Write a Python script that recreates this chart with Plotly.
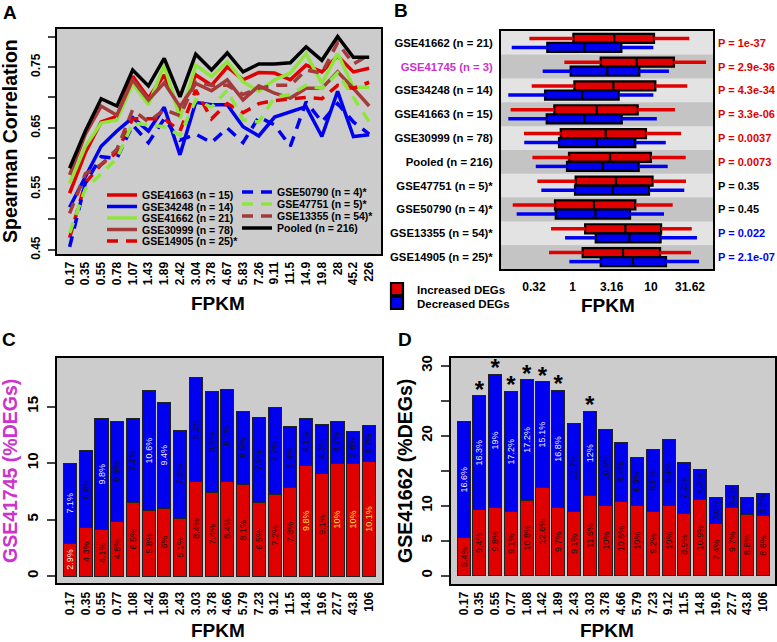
import plotly.graph_objects as go

W, H = 777, 642
FONT = "Liberation Sans, Arial, Helvetica, sans-serif"
RED = "#e00000"
BLUE = "#0000f0"
GREEN = "#8fe53c"
BROWN = "#a43a3a"
MAGENTA = "#cc33cc"
DARK = "#111111"
LIGHT = "#eeeeee"
YELLOW = "#ffe033"

# ---------------- Panel A data ----------------
fpkm_a = ["0.17", "0.35", "0.55", "0.78", "1.07", "1.43", "1.89", "2.42", "3.04", "3.78",
          "4.67", "5.83", "7.26", "9.11", "11.5", "14.9", "19.8", "28", "45.2", "226"]
gse41663 = [0.543, 0.61, 0.66, 0.669, 0.735, 0.699, 0.737, 0.677, 0.737, 0.72,
            0.75, 0.729, 0.741, 0.740, 0.729, 0.753, 0.742, 0.768, 0.742, 0.748]
gse34248 = [0.52, 0.57, 0.62, 0.645, 0.667, 0.645, 0.684, 0.606, 0.692, 0.688,
            0.688, 0.652, 0.637, 0.668, 0.677, 0.685, 0.636, 0.710, 0.636, 0.639]
gse41662 = [0.559, 0.62, 0.658, 0.663, 0.723, 0.688, 0.753, 0.666, 0.753, 0.734,
            0.759, 0.726, 0.710, 0.729, 0.740, 0.772, 0.723, 0.772, 0.717, 0.717]
gse30999 = [0.573, 0.64, 0.686, 0.671, 0.729, 0.696, 0.724, 0.685, 0.723, 0.711,
            0.729, 0.696, 0.719, 0.707, 0.699, 0.715, 0.715, 0.742, 0.715, 0.686]
gse14905 = [0.47, 0.56, 0.59, 0.61, 0.665, 0.665, 0.665, 0.645, 0.712, 0.665,
            0.69, 0.675, 0.69, 0.695, 0.697, 0.70, 0.698, 0.72, 0.715, 0.725]
gse50790 = [0.455, 0.56, 0.603, 0.60, 0.655, 0.626, 0.665, 0.63, 0.64, 0.626,
            0.65, 0.626, 0.668, 0.655, 0.62, 0.693, 0.66, 0.69, 0.66, 0.64]
gse47751 = [0.478, 0.55, 0.575, 0.60, 0.658, 0.655, 0.652, 0.638, 0.696, 0.684,
            0.712, 0.663, 0.66, 0.70, 0.705, 0.72, 0.715, 0.74, 0.70, 0.66]
gse13355 = [0.51, 0.575, 0.59, 0.615, 0.68, 0.66, 0.68, 0.67, 0.725, 0.72,
            0.72, 0.705, 0.715, 0.72, 0.72, 0.745, 0.74, 0.79, 0.755, 0.77]
pooled = [0.584, 0.645, 0.698, 0.686, 0.745, 0.719, 0.764, 0.701, 0.771, 0.745,
          0.773, 0.742, 0.755, 0.755, 0.757, 0.783, 0.761, 0.800, 0.766, 0.766]
a_yticks = [0.45, 0.50, 0.55, 0.60, 0.65, 0.70, 0.75, 0.80]
a_yticktext = ["0.45", "", "0.55", "", "0.65", "", "0.75", ""]

# ---------------- Panel B data ----------------
b_rows = ["GSE41662 (n = 21)", "GSE41745 (n = 3)", "GSE34248 (n = 14)", "GSE41663 (n = 15)",
          "GSE30999 (n = 78)", "Pooled (n = 216)", "GSE47751 (n = 5)*", "GSE50790 (n = 4)*",
          "GSE13355 (n = 54)*", "GSE14905 (n = 25)*"]
b_row_colors = ["black", MAGENTA] + ["black"] * 8
b_pvals = ["P = 1e-37", "P = 2.9e-36", "P = 4.3e-34", "P = 3.3e-06", "P = 0.0037",
           "P = 0.0073", "P = 0.35", "P = 0.45", "P = 0.022", "P = 2.1e-07"]
b_pval_colors = [RED] * 6 + ["black"] * 2 + [BLUE] * 2
# increased DEGs (red): whisker low, q1, median, q3, whisker high (FPKM)
up_lo = [0.279, 0.782, 0.299, 0.161, 0.238, 0.305, 0.353, 0.171, 0.528, 0.498]
up_q1 = [1.02, 2.28, 1.05, 0.582, 0.703, 0.897, 1.09, 0.594, 1.44, 1.34]
up_med = [3.40, 6.58, 3.31, 2.03, 2.64, 3.00, 3.58, 1.87, 4.71, 4.40]
up_q3 = [10.96, 19.7, 11.4, 6.78, 8.65, 10.0, 10.5, 6.32, 13.5, 13.1]
up_hi = [30.97, 50.7, 29.2, 20.3, 24.3, 27.9, 28.1, 19.0, 33.3, 32.6]
# decreased DEGs (blue)
dn_lo = [0.166, 0.413, 0.150, 0.150, 0.240, 0.337, 0.397, 0.192, 0.798, 0.906]
dn_q1 = [0.473, 0.942, 0.443, 0.465, 0.668, 0.845, 1.07, 0.607, 1.97, 2.28]
dn_med = [1.41, 2.77, 1.32, 1.41, 2.03, 2.42, 3.25, 1.95, 5.30, 5.90]
dn_q3 = [4.19, 7.11, 3.87, 4.24, 6.32, 6.98, 9.46, 5.41, 13.3, 15.6]
dn_hi = [10.74, 17.0, 10.74, 11.9, 15.5, 16.4, 26.7, 14.7, 38.8, 41.2]
b_xticks = [0.32, 1, 3.16, 10, 31.62]
b_xticktext = ["0.32", "1", "3.16", "10", "31.62"]

# ---------------- Panels C / D data ----------------
fpkm_cd = ["0.17", "0.35", "0.55", "0.77", "1.08", "1.42", "1.89", "2.43", "3.03", "3.78",
           "4.66", "5.79", "7.23", "9.12", "11.5", "14.8", "19.6", "27.7", "43.8", "106"]
c_up = [2.9, 4.3, 4.1, 4.8, 6.5, 5.8, 6, 5.1, 8.4, 7.4, 8.4, 8.1, 6.5, 7.2, 7.8, 9.8, 9.1, 10, 10, 10.1]
c_down = [7.1, 6.8, 9.8, 8.9, 7.4, 10.6, 9.4, 7.8, 9.2, 8.9, 8.1, 6.5, 7.5, 7.7, 5.4, 4.1, 4.3, 3.7, 2.8, 3.2]
d_up = [5.4, 9.4, 9.8, 9.1, 10.8, 12.6, 9.7, 9.1, 11.5, 10, 10.6, 10, 9.2, 10, 8.9, 10.9, 7.4, 9.7, 8.8, 8.6]
d_down = [16.6, 16.3, 19, 17.2, 17.2, 15.1, 16.8, 12.7, 12, 10.9, 8.4, 6.9, 8.8, 9.4, 7.2, 4.3, 3.8, 3.2, 2.4, 3.2]
d_star = [0, 1, 1, 1, 1, 1, 1, 0, 1, 0, 0, 0, 0, 0, 0, 0, 0, 0, 0, 0]
c_up_col = [LIGHT] + [DARK] * 14 + [YELLOW, DARK, YELLOW, YELLOW, YELLOW]
c_down_col = [LIGHT, DARK, LIGHT, DARK, DARK, LIGHT, LIGHT] + [DARK] * 13
d_up_col = [DARK] * 20
d_down_col = [LIGHT] * 7 + [DARK, LIGHT] + [DARK] * 11


def lab(vals, hide_below=0):
    return [("%g%%" % v) if v >= hide_below else "" for v in vals]


def dx(p):
    return p / W


def dy(p):
    return 1 - p / H


fig = go.Figure()

# ---------------- Panel A traces ----------------
a_series = [
    ("GSE41663 (n = 15)", gse41663, RED, "solid"),
    ("GSE34248 (n = 14)", gse34248, BLUE, "solid"),
    ("GSE41662 (n = 21)", gse41662, GREEN, "solid"),
    ("GSE30999 (n = 78)", gse30999, BROWN, "solid"),
    ("GSE14905 (n = 25)*", gse14905, RED, "11px,8px"),
    ("GSE50790 (n = 4)*", gse50790, BLUE, "11px,8px"),
    ("GSE47751 (n = 5)*", gse47751, GREEN, "11px,8px"),
    ("GSE13355 (n = 54)*", gse13355, BROWN, "11px,8px"),
    ("Pooled (n = 216)", pooled, "black", "solid"),
]
leg_keys = ["legend"] + ["legend%d" % k for k in range(2, 12)]
leg_pos = [(142, 195), (142, 206.5), (142, 218), (142, 229.5), (142, 241),
           (277, 192), (277, 204), (277, 216), (277, 228)]
for k, (name, vals, col, dash) in enumerate(a_series):
    fig.add_trace(go.Scatter(x=fpkm_a, y=vals, mode="lines", name=name,
                             line=dict(color=col, width=3.5, dash=dash),
                             xaxis="x", yaxis="y", legend=leg_keys[k]))

# ---------------- Panel B traces ----------------
off = 0.19
pos_up = [i - off for i in range(len(b_rows))]
pos_dn = [i + off for i in range(len(b_rows))]


def whisk(lo, q1, q3, hi, pos):
    xs, ys = [], []
    for a, b, c, d, p in zip(lo, q1, q3, hi, pos):
        xs += [a, b, None, c, d, None]
        ys += [p, p, None, p, p, None]
    return xs, ys


for lo, q1, q3, hi, pos, col in [(up_lo, up_q1, up_q3, up_hi, pos_up, RED),
                                 (dn_lo, dn_q1, dn_q3, dn_hi, pos_dn, BLUE)]:
    xs, ys = whisk(lo, q1, q3, hi, pos)
    fig.add_trace(go.Scatter(x=xs, y=ys, mode="lines", line=dict(color=col, width=3.5),
                             showlegend=False, xaxis="x2", yaxis="y2", connectgaps=False))

fig.add_trace(go.Box(orientation="h", y=pos_up, q1=up_q1, median=up_med, q3=up_q3,
                     lowerfence=up_q1, upperfence=up_q3, width=0.38,
                     fillcolor=RED, line=dict(color="black", width=2.2),
                     name="Increased DEGs", legend="legend10", xaxis="x2", yaxis="y2"))
fig.add_trace(go.Box(orientation="h", y=pos_dn, q1=dn_q1, median=dn_med, q3=dn_q3,
                     lowerfence=dn_q1, upperfence=dn_q3, width=0.38,
                     fillcolor=BLUE, line=dict(color="black", width=2.2),
                     name="Decreased DEGs", legend="legend11", xaxis="x2", yaxis="y2"))

# ---------------- Panel C / D traces ----------------
bar_line = dict(color="#222222", width=1)
for up, dn, ucol, dcol, ax, ay, hide in [(c_up, c_down, c_up_col, c_down_col, "x3", "y3", 0),
                                         (d_up, d_down, d_up_col, d_down_col, "x4", "y4", 3)]:
    fig.add_trace(go.Bar(x=fpkm_cd, y=up, marker=dict(color=RED, line=bar_line), width=0.833,
                         text=lab(up), textposition="inside", insidetextanchor="middle",
                         textangle=-90, constraintext="none",
                         textfont=dict(size=9, color=ucol, family=FONT),
                         showlegend=False, xaxis=ax, yaxis=ay))
    fig.add_trace(go.Bar(x=fpkm_cd, y=dn, marker=dict(color=BLUE, line=bar_line), width=0.833,
                         text=lab(dn, hide), textposition="inside", insidetextanchor="middle",
                         textangle=-90, constraintext="none",
                         textfont=dict(size=9, color=dcol, family=FONT),
                         showlegend=False, xaxis=ax, yaxis=ay))

star_x = [f for f, s in zip(fpkm_cd, d_star) if s]
star_y = [u + d + 0.6 for u, d, s in zip(d_up, d_down, d_star) if s]
fig.add_trace(go.Scatter(x=star_x, y=star_y, mode="text", text=["*"] * len(star_x),
                         textposition="middle center",
                         textfont=dict(size=24, color="black", family=FONT, weight="bold"),
                         showlegend=False, xaxis="x4", yaxis="y4"))

# ---------------- Layout ----------------
box_line = dict(showline=True, mirror=True, linecolor="black", linewidth=2,
                showgrid=False, zeroline=False)
tf = lambda s: dict(family=FONT, size=s, color="black", weight="bold")

layout = dict(
    width=W, height=H, autosize=False,
    margin=dict(l=0, r=0, t=0, b=0, autoexpand=False),
    paper_bgcolor="white", plot_bgcolor="#cccccc",
    barmode="stack", boxmode="overlay",
    font=dict(family=FONT, color="black"),
    xaxis=dict(domain=[dx(57), dx(381)], anchor="y", type="category", range=[-0.8, 19.75],
               tickangle=-90, ticks="", tickfont=tf(12), ticklabelstandoff=1, **box_line),
    yaxis=dict(domain=[dy(254), dy(29)], anchor="x", range=[0.4434, 0.8123],
               tickvals=a_yticks, ticktext=a_yticktext, tickangle=-90, ticks="outside",
               ticklen=7, tickwidth=1.5, tickfont=tf(12), ticklabelstandoff=3, **box_line),
    xaxis2=dict(domain=[dx(501), dx(713)], anchor="y2", type="log", range=[-0.917, 1.794],
                tickvals=b_xticks, ticktext=b_xticktext, ticks="", tickangle=0,
                tickfont=tf(12), ticklabelstandoff=6, **box_line),
    yaxis2=dict(domain=[dy(269), dy(31)], anchor="x2", range=[9.5, -0.5],
                tickvals=list(range(len(b_rows))),
                ticktext=['<span style="color:%s">%s</span>' % (c, t) for t, c in zip(b_rows, b_row_colors)],
                ticks="", tickfont=tf(11.3), ticklabelstandoff=4, **box_line),
    xaxis3=dict(domain=[dx(57), dx(382)], anchor="y3", type="category", range=[-0.83, 19.83],
                tickangle=-90, ticks="", tickfont=tf(12), ticklabelstandoff=2, **box_line),
    yaxis3=dict(domain=[dy(583), dy(358)], anchor="x3", range=[-0.62, 19.3],
                tickvals=[0, 5, 10, 15], tickangle=-90, ticks="outside", ticklen=8,
                tickwidth=1.5, tickfont=tf(15), ticklabelstandoff=3, **box_line),
    xaxis4=dict(domain=[dx(451), dx(775)], anchor="y4", type="category", range=[-0.8, 19.75],
                tickangle=-90, ticks="", tickfont=tf(12), ticklabelstandoff=1, **box_line),
    yaxis4=dict(domain=[dy(584), dy(358)], anchor="x4", range=[-1.2, 31.1],
                tickvals=[0, 5, 10, 15, 20, 25, 30], ticktext=["0", "5", "10", "", "20", "", "30"],
                tickangle=-90, ticks="outside", ticklen=8, tickwidth=1.5, tickfont=tf(15),
                ticklabelstandoff=3, **box_line),
)

# legends (one per entry so they can sit as tightly as in the reference)
for k, (tx, ty) in enumerate(leg_pos):
    layout[leg_keys[k]] = dict(x=dx(tx - 40), y=dy(ty), xanchor="left", yanchor="middle",
                               bgcolor="rgba(0,0,0,0)", borderwidth=0, itemwidth=30,
                               font=tf(10.5))
for key, ty in [("legend10", 289), ("legend11", 303)]:
    layout[key] = dict(x=dx(417 - 40), y=dy(ty), xanchor="left", yanchor="middle",
                       bgcolor="rgba(0,0,0,0)", borderwidth=0, itemwidth=30, font=tf(11.5))

# row bands in panel B
shapes = []
for i in range(len(b_rows)):
    shapes.append(dict(type="rect", xref="x2 domain", yref="y2", x0=0, x1=1,
                       y0=i - 0.5, y1=i + 0.5, layer="below", line=dict(width=0),
                       fillcolor="#e3e3e3" if i % 2 == 0 else "#c4c4c4"))
layout["shapes"] = shapes

ann = []


def add_text(text, x, y, size, angle=0, color="black", xanchor="center", yref="paper", yv=None):
    ann.append(dict(text=text, x=x, y=y if yv is None else yv, xref="paper", yref=yref,
                    xanchor=xanchor, yanchor="middle", showarrow=False, textangle=angle,
                    font=dict(family=FONT, size=size, color=color, weight="bold")))


add_text("A", dx(1), dy(13), 19, xanchor="left")
add_text("B", dx(392), dy(11), 19, xanchor="left")
add_text("C", dx(0), dy(339), 19, xanchor="left")
add_text("D", dx(396), dy(339), 19, xanchor="left")
add_text("Spearman Correlation", dx(10.5), dy(141.5), 19.5, angle=-90)
add_text("FPKM", dx(218.5), dy(303), 19)
add_text("FPKM", dx(608), dy(305), 19)
add_text("GSE41745 (%DEGs)", dx(10), dy(471), 19.5, angle=-90, color=MAGENTA)
add_text("GSE41662 (%DEGs)", dx(405), dy(471), 19.5, angle=-90)
add_text("FPKM", dx(218.5), dy(630), 19)
add_text("FPKM", dx(606.5), dy(630), 19)
for i, (p, c) in enumerate(zip(b_pvals, b_pval_colors)):
    add_text(p, dx(716), None, 11, color=c, xanchor="left", yref="y2", yv=i)
layout["annotations"] = ann

fig.update_layout(**layout)
fig.write_html("out.html", config={"displayModeBar": False},
               post_script="document.body.style.margin='0px';document.body.style.padding='0px';")
